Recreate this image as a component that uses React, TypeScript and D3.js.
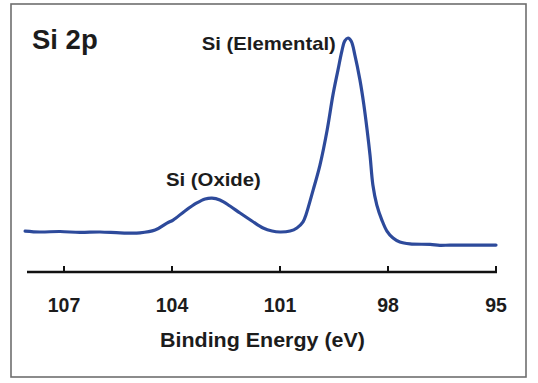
import React from "react";
import * as d3 from "d3";

// Binding energy (eV) and intensity (a.u.)
const energy = [108.08, 107.67, 107.11, 106.56, 106.0, 105.44, 104.89, 104.47, 104.14, 103.97, 103.64, 103.31, 103.08, 102.89, 102.67, 102.39, 102.11, 101.78, 101.47, 101.22, 101.0, 100.72, 100.53, 100.36, 100.28, 100.08, 99.89, 99.69, 99.53, 99.39, 99.28, 99.2, 99.11, 99.02, 98.92, 98.78, 98.67, 98.58, 98.5, 98.42, 98.31, 98.17, 98.03, 97.86, 97.67, 97.39, 96.83, 96.56, 96.28, 95.72, 95.0];
const intensity = [17.5, 17.1, 17.3, 16.9, 17.1, 16.7, 16.7, 17.9, 20.9, 22.2, 26.1, 29.5, 31.2, 31.6, 30.8, 28.2, 25.2, 21.8, 18.8, 17.5, 17.1, 17.5, 18.8, 21.4, 24.4, 35.0, 45.7, 60.7, 75.6, 86.3, 94.5, 98.8, 100, 98.6, 92.7, 82.1, 71.4, 60.7, 50, 37.2, 28.6, 22.2, 17.5, 14.5, 12.8, 12.0, 11.8, 11.4, 11.5, 11.5, 11.5];
const tickValues = [107, 104, 101, 98, 95];
const tickLabels = ["107", "104", "101", "98", "95"];
const title = "Si 2p";
const peakLabels = ["Si (Elemental)", "Si (Oxide)"];
const peakLabelEnergy = [101.31, 102.85];
const axisTitle = "Binding Energy (eV)";

export default function App() {
  const W = 538;
  const H = 383;
  const x = d3.scaleLinear().domain([108, 95]).range([28, 496]);
  const y = d3.scaleLinear().domain([0, 100]).range([272, 38]);
  const data = energy.map((e, i) => [e, intensity[i]] as [number, number]);
  const line = d3
    .line<[number, number]>()
    .x((d) => x(d[0]))
    .y((d) => y(d[1]))
    .curve(d3.curveCatmullRom.alpha(0.5));
  const font = "'Liberation Sans', Arial, Helvetica, sans-serif";
  const txt = { fontFamily: font, fontWeight: "bold", fill: "#1c1c1c" } as const;
  return (
    <svg
      width={W}
      height={H}
      style={{ position: "absolute", left: 0, top: 0, background: "#fff" }}
    >
      <rect x={11} y={4} width={515} height={373} fill="#fff" stroke="#6e6e6e" strokeWidth={1.6} />
      <path d={line(data) || ""} fill="none" stroke="#2D4A9B" strokeWidth={3.2} strokeLinejoin="round" strokeLinecap="round" />
      <line x1={27} x2={x(95) + 1} y1={272} y2={272} stroke="#111" strokeWidth={2.6} />
      {tickValues.map((t, i) => (
        <g key={t}>
          <line x1={x(t)} x2={x(t)} y1={272} y2={266} stroke="#111" strokeWidth={2} />
          <text x={x(t)} y={311.5} textAnchor="middle" fontSize={19.5} {...txt}>
            {tickLabels[i]}
          </text>
        </g>
      ))}
      <text x={262.5} y={346.5} textAnchor="middle" fontSize={19.5} textLength={205} lengthAdjust="spacingAndGlyphs" {...txt}>
        {axisTitle}
      </text>
      <text x={32} y={48.5} fontSize={27.5} {...txt}>
        {title}
      </text>
      <text x={x(peakLabelEnergy[0])} y={50} textAnchor="middle" fontSize={19} textLength={134} lengthAdjust="spacingAndGlyphs" {...txt}>
        {peakLabels[0]}
      </text>
      <text x={x(peakLabelEnergy[1])} y={186} textAnchor="middle" fontSize={19} textLength={95} lengthAdjust="spacingAndGlyphs" {...txt}>
        {peakLabels[1]}
      </text>
    </svg>
  );
}
